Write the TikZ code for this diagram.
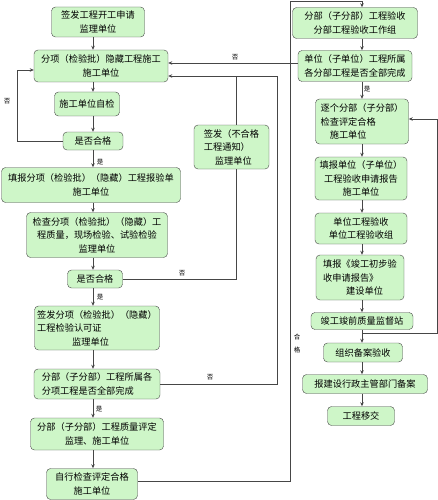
\documentclass[tikz,border=0pt]{standalone}
\usepackage{fontspec}
\newfontfamily\cjk{Noto Sans CJK SC}
\usetikzlibrary{arrows.meta}
\definecolor{boxgreen}{RGB}{206,246,200}
\definecolor{linegray}{RGB}{70,70,70}
\begin{document}
\begin{tikzpicture}[x=1pt,y=-1pt,
  box/.style={draw=linegray,fill=boxgreen,rounded corners=4pt,align=center,inner sep=1pt,font=\cjk\fontsize{9.2}{13.5}\selectfont},
  lbl/.style={font=\cjk\fontsize{6.5}{13}\selectfont,inner sep=0pt,align=center},
  flow/.style={draw=linegray,line width=0.8pt,-{Stealth[length=4pt,width=3.5pt]}},
  wire/.style={draw=linegray,line width=0.8pt}]
\useasboundingbox (0,0) rectangle (438,500);
% left column
\node[box,minimum width=93pt,minimum height=30pt] (b1) at (98,22) {签发工程开工申请\\监理单位};
\node[box,minimum width=134pt,minimum height=32pt] (b2) at (101,66) {分项（检验批）隐藏工程施工\\施工单位};
\node[box,minimum width=65pt,minimum height=24pt] (b3) at (87,104) {施工单位自检};
\node[box,minimum width=60pt,minimum height=18pt] (b4) at (93,141) {是否合格};
\node[box,minimum width=179pt,minimum height=35pt] (b5) at (91,185) {填报分项（检验批）（隐藏）工程报验单\\施工单位};
\node[box,minimum width=141pt,minimum height=45pt] (b6) at (97,235) {检查分项（检验批）（隐藏）工\\程质量，现场检验、试验检验\\监理单位};
\node[box,minimum width=55pt,minimum height=18pt] (b7) at (95,279) {是否合格};
\node[box,align=left,minimum width=125pt,minimum height=44pt] (b8) at (97,328) {签发分项（检验批）（隐藏）\\工程检验认可证\\\hspace{3.8em}监理单位};
\node[box,align=left,minimum width=126pt,minimum height=30pt] (b9) at (97,384) {分部（子分部）工程所属各\\分项工程是否全部完成};
\node[box,minimum width=133pt,minimum height=32pt] (b10) at (97,434) {分部（子分部）工程质量评定\\监理、施工单位};
\node[box,minimum width=91pt,minimum height=31pt] (b11) at (92,484) {自行检查评定合格\\施工单位};
% middle
\node[box,align=left,minimum width=75pt,minimum height=44pt] (M) at (231.5,147) {签发（不合格\\工程通知）\\\hspace{1.2em}监理单位};
% right column
\node[box,minimum width=125pt,minimum height=31pt] (R1) at (355,23) {分部（子分部）工程验收\\分部工程验收工作组};
\node[box,minimum width=114pt,minimum height=31pt] (R2) at (355,66) {单位（子单位）工程所属\\各分部工程是否全部完成};
\node[box,align=left,minimum width=93pt,minimum height=45pt] (R3) at (362,121.5) {逐个分部（子分部）\\检查评定合格\\\hspace{1em}施工单位};
\node[box,minimum width=92pt,minimum height=43pt] (R4) at (361,178.5) {填报单位（子单位）\\工程验收申请报告\\施工单位};
\node[box,minimum width=92pt,minimum height=31pt] (R5) at (361,228.5) {单位工程验收\\单位工程验收组};
\node[box,align=left,minimum width=88pt,minimum height=45pt] (R6) at (360,277.5) {填报《竣工初步验\\收申请报告》\\\hspace{2.5em}建设单位};
\node[box,minimum width=102pt,minimum height=17pt] (R7) at (362,321) {竣工竣前质量监督站};
\node[box,minimum width=79pt,minimum height=19pt] (R8) at (363,352.5) {组织备案验收};
\node[box,minimum width=125pt,minimum height=19pt] (R9) at (365,384) {报建设行政主管部门备案};
\node[box,minimum width=67pt,minimum height=19pt] (R10) at (361,416) {工程移交};
% turning points
\coordinate (colL) at (93,0);
\coordinate (colR) at (362,0);
\coordinate (noL) at (17,70);
\coordinate (hy63) at (0,63);
\coordinate (noR) at (277,76);
\coordinate (mTop) at (236,76);
\coordinate (mBot) at (236,282);
\coordinate (outB) at (290,481);
\coordinate (outT) at (290,1);
\coordinate (loopB) at (437,333);
\coordinate (loopT) at (437,119);
% straight arrows
\foreach \a/\b in {b1/b2,b2/b3,b3/b4,b4/b5,b5/b6,b6/b7,b7/b8,b8/b9,b9/b10,b10/b11}
  \draw[flow] (\a.south -| colL) -- (\b.north -| colL);
\foreach \a/\b in {R1/R2,R2/R3,R3/R4,R4/R5,R5/R6,R6/R7,R7/R8,R8/R9,R9/R10}
  \draw[flow] (\a.south -| colR) -- (\b.north -| colR);
% loops back
\draw[flow] (b4.west) -| (noL) -- (b2.west |- noL);
\draw[flow] (R2.west |- hy63) -- (b2.east |- hy63);
\draw[flow] (b9.east) -| (noR) -- (b2.east |- noR);
\draw[wire] (b7.east) -| (M.south -| mBot);
\draw[wire] (M.north -| mTop) -- (mTop);
\draw[flow] (b11.east |- outB) -- (outB) -- (outT) -| (R1.north -| colR);
\draw[flow] (loopB -| colR) -- (loopB) -- (loopT) -- (R3.east |- loopT);
% labels
\node[lbl] (n1) at (7,101) {否};
\node[lbl] (n2) at (235,57) {否};
\node[lbl] (n3) at (182,273) {否};
\node[lbl] (n4) at (210,377) {否};
\node[lbl] (y1) at (100,162) {是};
\node[lbl] (y2) at (100,297) {是};
\node[lbl] (y3) at (99,409) {是};
\node[lbl] (y4) at (367,89) {是};
\node[lbl] (ok) at (297,344) {合\\格};
\end{tikzpicture}
\end{document}
